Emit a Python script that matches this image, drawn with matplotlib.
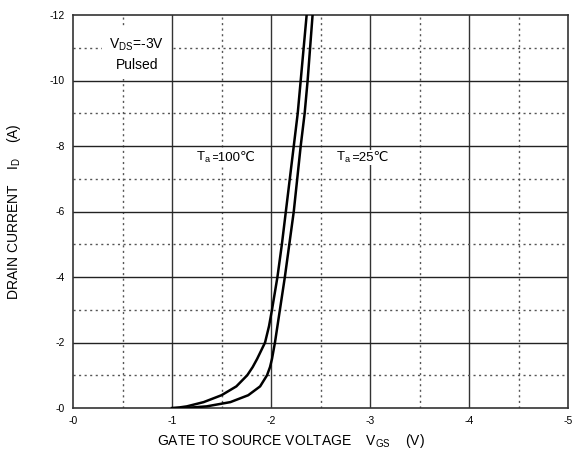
import matplotlib.pyplot as plt
import numpy as np

plt.rcParams['font.family'] = ['Liberation Sans', 'DejaVu Sans']
plt.rcParams['mathtext.default'] = 'regular'

# transfer curves (V, A)
vgs_100 = [-1.0, -1.08, -1.15, -1.32, -1.50, -1.65, -1.76, -1.815, -1.86, -1.90,
           -1.94, -1.98, -2.01, -2.065, -2.11, -2.15, -2.19, -2.23, -2.27, -2.30,
           -2.33, -2.36]
id_100 = [0, -0.02, -0.05, -0.18, -0.39, -0.66, -1.0, -1.25, -1.5, -1.75,
          -2.0, -2.5, -3.0, -4.0, -5.0, -6.0, -7.0, -8.0, -9.0, -10.0,
          -11.0, -12.0]

vgs_25 = [-1.1, -1.22, -1.35, -1.59, -1.77, -1.89, -1.96, -1.99, -2.01, -2.025,
          -2.04, -2.065, -2.09, -2.14, -2.185, -2.23, -2.265, -2.30, -2.34, -2.37,
          -2.395, -2.42]
id_25 = [0, -0.02, -0.05, -0.18, -0.39, -0.66, -1.0, -1.25, -1.5, -1.75,
         -2.0, -2.5, -3.0, -4.0, -5.0, -6.0, -7.0, -8.0, -9.0, -10.0,
         -11.0, -12.0]

xticks = [0, -1, -2, -3, -4, -5]
xtick_labels = ['-0', '-1', '-2', '-3', '-4', '-5']
yticks = [0, -2, -4, -6, -8, -10, -12]
ytick_labels = ['-0', '-2', '-4', '-6', '-8', '-10', '-12']

fig = plt.figure(figsize=(5.73, 4.57), dpi=100)
ax = fig.add_axes([73 / 573, 1 - 408 / 457, 495 / 573, 393 / 457])

# grid: solid on majors, dotted on minors
for v in np.arange(-0.5, -5, -0.5):
    if abs(v - round(v)) < 1e-6:
        ax.axvline(v, color='#333333', lw=1.0, zorder=1)
    else:
        ax.axvline(v, color='#555555', lw=1.0, ls=(0, (1.5, 2.5)), zorder=1)
for i in np.arange(-1, -12, -1):
    if i % 2 == 0:
        ax.axhline(i, color='#222222', lw=1.0, zorder=1)
    else:
        ax.axhline(i, color='#555555', lw=1.0, ls=(0, (1.5, 2.5)), zorder=1)

ax.plot(vgs_100, id_100, color='black', lw=1.8, zorder=3, solid_joinstyle='round')
ax.plot(vgs_25, id_25, color='black', lw=1.8, zorder=3, solid_joinstyle='round')

ax.set_xlim(0, -5)
ax.set_ylim(0, -12)
ax.set_xticks(xticks)
ax.set_xticklabels(xtick_labels)
ax.set_yticks(yticks)
ax.set_yticklabels(ytick_labels)
ax.tick_params(length=0, labelsize=7.5, pad=6)
for s in ax.spines.values():
    s.set_color('#333333')
    s.set_linewidth(1.2)

ax.set_xlabel('GATE TO SOURCE VOLTAGE    V$_{GS}$    (V)', fontsize=10)
ax.xaxis.set_label_coords(0.44, -0.062)
ax.set_ylabel('DRAIN CURRENT    I$_{D}$    (A)', fontsize=10)
ax.yaxis.set_label_coords(-0.10, 0.5)

ax.text(-0.645, -10.8, 'V$_{DS}$=-3V\nPulsed', fontsize=10, ha='center', va='center',
        linespacing=1.45, bbox=dict(facecolor='white', edgecolor='none', pad=5), zorder=2)

# temperature labels: "T_a" in mathtext, the rest as plain text (for the ℃ sign)
bbox = dict(facecolor='white', edgecolor='none', pad=1)
for x0, txt in [(-1.24, '=100\u2103'), (-2.66, '=25\u2103')]:
    ax.text(x0 - 0.15, -7.65, txt, fontsize=9.5, ha='left', va='center', bbox=bbox, zorder=2)
    ax.text(x0, -7.65, 'T$_a$', fontsize=9.5, ha='left', va='center', bbox=bbox, zorder=2.5)

fig.savefig('out.png', dpi=100)
